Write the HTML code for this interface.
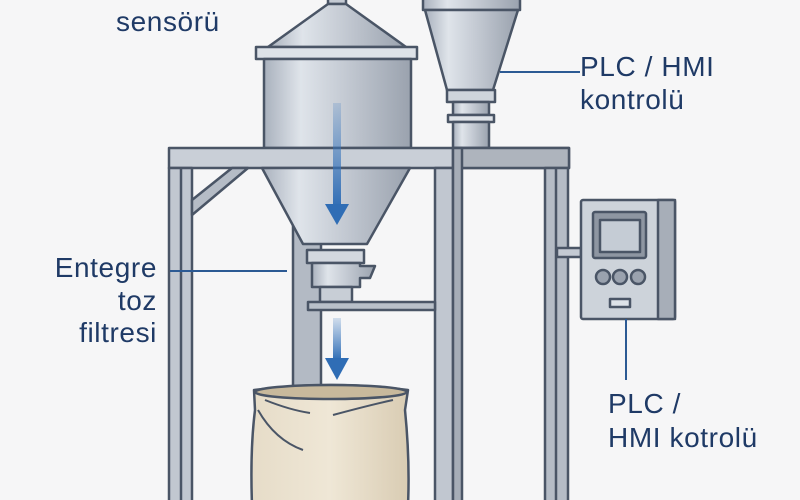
<!DOCTYPE html>
<html><head><meta charset="utf-8"><style>
html,body{margin:0;padding:0;background:#f6f6f7;}
svg{display:block}
text{font-family:"Liberation Sans","DejaVu Sans",sans-serif;fill:#1f3a66;font-size:28px;letter-spacing:0.6px}
</style></head><body>
<svg width="800" height="500" viewBox="0 0 800 500" xmlns="http://www.w3.org/2000/svg">
<defs>
<linearGradient id="m" x1="0" x2="1" y1="0" y2="0">
<stop offset="0" stop-color="#a9b1bd"/><stop offset="0.25" stop-color="#dfe4ea"/><stop offset="0.55" stop-color="#c4cad3"/><stop offset="1" stop-color="#9aa2ae"/></linearGradient>
<linearGradient id="bag" x1="0" x2="1"><stop offset="0" stop-color="#e6dcc8"/><stop offset="0.5" stop-color="#efe7d6"/><stop offset="1" stop-color="#d9ccb3"/></linearGradient>
<linearGradient id="ar" x1="0" y1="0" x2="0" y2="1"><stop offset="0" stop-color="#3a78c0" stop-opacity="0.2"/><stop offset="1" stop-color="#2f6db5"/></linearGradient>
</defs>
<g stroke="#4a5566" stroke-width="2.5" stroke-linejoin="round">
<rect x="293" y="220" width="28" height="166" fill="#b3bac4"/>
<rect x="423" y="-5" width="97" height="15" fill="url(#m)"/>
<polygon points="425,10 518,10 493,90 447,90" fill="url(#m)"/>
<rect x="447" y="90" width="48" height="12" fill="#cfd5dc"/>
<rect x="453" y="102" width="36" height="13" fill="url(#m)"/>
<rect x="448" y="115" width="46" height="7" fill="#dfe3e8"/>
<rect x="453" y="122" width="36" height="26" fill="url(#m)"/>
<rect x="328" y="-5" width="18" height="9" fill="#c4cad3"/>
<polygon points="268,47 406,47 346,4 328,4" fill="url(#m)"/>
<rect x="256" y="47" width="161" height="12" fill="#dde2e8"/>
<rect x="264" y="59" width="147" height="89" fill="url(#m)"/>
<rect x="169" y="148" width="400" height="20" fill="#c9cfd7"/>
<rect x="453" y="148" width="116" height="20" fill="#aeb4bd"/>
<rect x="169" y="168" width="23" height="340" fill="#c1c7d0"/>
<line x1="181" y1="168" x2="181" y2="500"/>
<polygon points="192,200 232,168 248,168 192,215" fill="#b5bcc6"/>
<rect x="545" y="168" width="23" height="340" fill="#b5bcc6"/>
<line x1="556" y1="168" x2="556" y2="500"/>
<rect x="435" y="168" width="18" height="340" fill="#c1c7d0"/>
<rect x="453" y="148" width="9" height="360" fill="#a6adb7"/>
<polygon points="262,168 410,168 367,244 303,244" fill="url(#m)"/>
<rect x="307" y="250" width="57" height="13" fill="#d3d8df"/>
<polygon points="312,263 360,263 360,266 375,266 370,278 360,278 360,287 312,287" fill="url(#m)"/>
<rect x="320" y="287" width="32" height="15" fill="#c8ced6"/>
<rect x="308" y="302" width="127" height="8" fill="#b9c0c9"/>
<path d="M254,390 Q330,380 408,390 L405,410 Q410,460 408,505 L252,505 Q250,450 255,410 Z" fill="url(#bag)"/>
<ellipse cx="331" cy="392" rx="76" ry="7" fill="#c8b99c"/>
<path d="M265,400 Q290,410 310,413 M333,415 Q370,405 393,400 M258,410 Q275,440 303,450" fill="none" stroke-width="2"/>
<rect x="557" y="248" width="24" height="9" fill="#c4cad3"/>
<rect x="581" y="200" width="94" height="119" rx="2" fill="#cdd3da"/>
<rect x="658" y="200" width="17" height="119" fill="#a7aeb8"/>
<rect x="593" y="212" width="53" height="46" rx="2" fill="#8e96a2"/>
<rect x="600" y="220" width="40" height="32" fill="#c5ccd5"/>
<circle cx="603" cy="277" r="7" fill="#9aa2ae"/>
<circle cx="620" cy="277" r="7" fill="#9aa2ae"/>
<circle cx="638" cy="277" r="7" fill="#9aa2ae"/>
<rect x="610" y="299" width="20" height="8" fill="#dde2e8"/>
</g>
<rect x="333" y="103" width="8" height="105" fill="url(#ar)"/>
<polygon points="325,204 349,204 337,225" fill="#2f6db5"/>
<rect x="333" y="318" width="8" height="42" fill="url(#ar)"/>
<polygon points="325,358 349,358 337,380" fill="#2f6db5"/>
<g stroke="#2c5a94" stroke-width="2">
<line x1="500" y1="72" x2="580" y2="72"/>
<line x1="170" y1="271" x2="287" y2="271"/>
<line x1="626" y1="319" x2="626" y2="380"/>
</g>
<text x="116" y="31">sensörü</text>
<text x="580" y="76">PLC / HMI</text>
<text x="580" y="109">kontrolü</text>
<text x="157" y="277" text-anchor="end">Entegre</text>
<text x="157" y="310" text-anchor="end">toz</text>
<text x="157" y="342" text-anchor="end">filtresi</text>
<text x="608" y="413">PLC /</text>
<text x="608" y="447">HMI kotrolü</text>
</svg>
</body></html>
